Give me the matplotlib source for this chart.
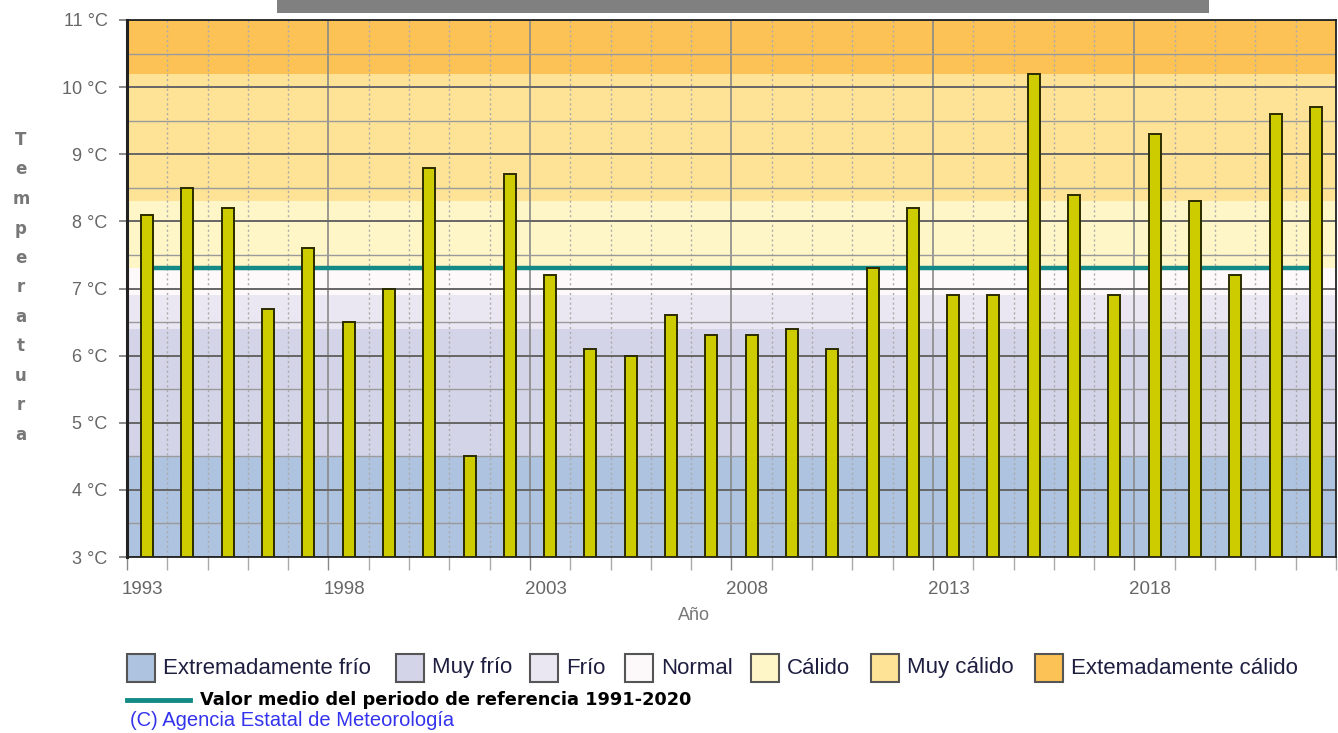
import numpy as np
import matplotlib
matplotlib.use("Agg")
import matplotlib.pyplot as plt
from matplotlib.patches import Rectangle
from matplotlib.lines import Line2D
from matplotlib.ticker import MultipleLocator, FuncFormatter
from matplotlib.transforms import ScaledTranslation


# data
years = list(range(1993, 2023))
temps = [8.1, 8.5, 8.2, 6.7, 7.6, 6.5, 7.0, 8.8, 4.5, 8.7,
         7.2, 6.1, 6.0, 6.6, 6.3, 6.3, 6.4, 6.1, 7.3, 8.2,
         6.9, 6.9, 10.2, 8.4, 6.9, 9.3, 8.3, 7.2, 9.6, 9.7]
ref_mean = 7.3
year_ticks = [1993, 1998, 2003, 2008, 2013, 2018]

band_labels = ["Extremadamente frío", "Muy frío", "Frío", "Normal",
               "Cálido", "Muy cálido", "Extemadamente cálido"]
band_edges = [3.0, 4.5, 6.4, 6.9, 7.3, 8.3, 10.2, 11.0]
band_colors = ["#aec3df", "#d3d4e8", "#ebe7f2", "#fdf8fa",
               "#fff6c8", "#fee396", "#fdc256"]

ref_label = "Valor medio del periodo de referencia 1991-2020"
credit = "(C) Agencia Estatal de Meteorología"
ylabel = "Temperatura"


W, H = 1338, 733
def fx(x):
    return x / W
def fy(y):
    return 1 - y / H

fig = plt.figure(figsize=(W / 100, H / 100), dpi=100)
fig.patch.set_facecolor("white")

ax = fig.add_axes([fx(127), fy(557), (1336 - 127) / W, (557 - 20) / H])
ax.set_xlim(1993, 2023)
ax.set_ylim(3, 11)

# background bands
for lo, hi, c in zip(band_edges[:-1], band_edges[1:], band_colors):
    ax.axhspan(lo, hi, color=c, lw=0, zorder=0)

# grid
ax.yaxis.set_major_locator(MultipleLocator(1))
ax.yaxis.set_minor_locator(MultipleLocator(0.5))
ax.set_xticks(year_ticks)
ax.set_xticks([y for y in range(1993, 2024) if y not in year_ticks], minor=True)
ax.grid(axis="y", which="major", color="#666666", lw=1.4, zorder=1)
ax.grid(axis="y", which="minor", color="#9a9a9a", lw=1.0, zorder=1)
ax.grid(axis="x", which="major", color="#8a8a8a", lw=1.2, zorder=1)
ax.grid(axis="x", which="minor", color="#aaaaaa", lw=1.0, ls=(0, (1.5, 2)), zorder=1)
ax.set_axisbelow(True)

# reference line
x = np.array(years) + 0.5
ax.plot(x, [ref_mean] * len(x), color="#148a86", lw=3.2, zorder=2)

# bars
ax.bar(x, np.array(temps) - 3, bottom=3, width=0.3, color="#cccc00",
       edgecolor="#2b2b00", lw=1.4, zorder=3)

# ticks
ax.yaxis.set_major_formatter(FuncFormatter(lambda v, p: "%d °C" % v))
ax.tick_params(axis="y", which="major", length=6, width=1.2, color="#777777",
               labelcolor="#666666", labelsize=13, pad=8)
ax.tick_params(axis="y", which="minor", length=0)
ax.tick_params(axis="x", which="major", length=9, width=1.0, color="#888888",
               labelcolor="#666666", labelsize=13.5, pad=8)
ax.tick_params(axis="x", which="minor", length=9, width=1.0, color="#aaaaaa")
for t in ax.xaxis.get_minor_ticks():
    t.tick1line.set_linestyle(":")
shift = ScaledTranslation(-5 / 100, 0, fig.dpi_scale_trans)
for lab in ax.get_xticklabels():
    lab.set_horizontalalignment("left")
    lab.set_transform(lab.get_transform() + shift)
for lab in ax.get_yticklabels() + ax.get_xticklabels():
    lab.set_fontfamily("Liberation Sans")

for s in ax.spines.values():
    s.set_color("#222222")
    s.set_linewidth(1.3)
ax.spines["left"].set_linewidth(2.2)

# axis titles
fig.text(fx(694), fy(615), "Año", ha="center", va="center", color="#777777",
         fontsize=13, family="Liberation Sans")
for i, ch in enumerate(ylabel):
    fig.text(fx(21), fy(140 + i * 29.5), ch, ha="center", va="center",
             color="#777777", fontsize=12, fontweight="bold")

# masked title bar
fig.patches.append(Rectangle((fx(277), fy(13)), (1209 - 277) / W, 13 / H,
                             transform=fig.transFigure, color="#808080", lw=0))

# legend
sq_x = [127, 396, 530, 625, 751, 871, 1035]
for sx, lab, c in zip(sq_x, band_labels, band_colors):
    fig.patches.append(Rectangle((fx(sx), fy(682)), 28 / W, 28 / H,
                                 transform=fig.transFigure, facecolor=c,
                                 edgecolor="#555555", lw=1.5))
    fig.text(fx(sx + 36), fy(668), lab, ha="left", va="center",
             color="#1e1e40", fontsize=16, family="Liberation Sans")

fig.lines.append(Line2D([fx(127), fx(190)], [fy(700), fy(700)],
                        transform=fig.transFigure, color="#148a86", lw=3.5))
fig.text(fx(200), fy(700), ref_label, ha="left", va="center", color="black",
         fontsize=12.8, fontweight="bold", family="DejaVu Sans")
fig.text(fx(130), fy(720), credit, ha="left", va="center", color="#3333ee",
         fontsize=14.5, family="Liberation Sans")

fig.savefig("out.png", dpi=100)
